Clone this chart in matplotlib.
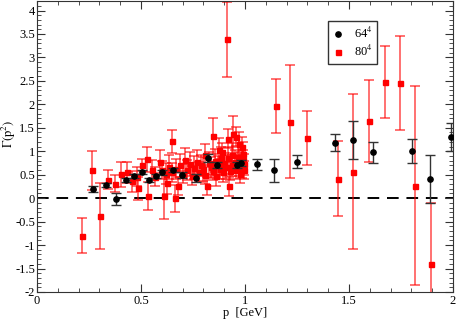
import numpy as np
import matplotlib
matplotlib.use("Agg")
import matplotlib.pyplot as plt
from matplotlib.lines import Line2D
from matplotlib.ticker import MultipleLocator

plt.rcParams['font.family'] = ['Liberation Serif', 'DejaVu Serif']
plt.rcParams['mathtext.fontset'] = 'stix'

# 64^4 lattice
p64 = [0.268, 0.332, 0.381, 0.426, 0.468, 0.506, 0.538, 0.572, 0.602, 0.655,
       0.695, 0.764, 0.824, 0.864, 0.96, 0.98, 1.058, 1.141, 1.248, 1.434,
       1.518, 1.615, 1.804, 1.889, 1.989]
g64 = [0.19, 0.28, -0.02, 0.38, 0.48, 0.56, 0.39, 0.47, 0.55, 0.60,
       0.50, 0.43, 0.86, 0.71, 0.71, 0.75, 0.72, 0.59, 0.78, 1.18,
       1.24, 0.98, 1.00, 0.41, 1.30]
e64 = [0.06, 0.05, 0.13, 0.04, 0.04, 0.05, 0.05, 0.05, 0.05, 0.05,
       0.06, 0.08, 0.08, 0.07, 0.07, 0.07, 0.12, 0.24, 0.14, 0.18,
       0.40, 0.22, 0.26, 0.52, 0.30]

# 80^4 lattice
p80 = [0.216, 0.264, 0.304, 0.341, 0.375, 0.404, 0.431, 0.458, 0.482, 0.484,
       0.506, 0.527, 0.532, 0.551, 0.567, 0.59, 0.611, 0.627, 0.647, 0.663,
       0.68, 0.712, 0.808, 0.816, 0.848, 0.877, 0.891, 0.915, 0.92, 0.925,
       0.936, 0.944, 0.957, 0.973, 0.984, 0.99, 0.995,
       0.60, 0.62, 0.635, 0.65, 0.67, 0.69, 0.70, 0.72, 0.735, 0.745,
       0.755, 0.77, 0.78, 0.79, 0.80, 0.81, 0.825, 0.835, 0.845, 0.855,
       0.86, 0.87, 0.88, 0.885, 0.895, 0.90, 0.91, 0.92, 0.93, 0.94,
       0.95, 0.955, 0.965, 0.97, 0.975, 0.98, 0.985, 0.99, 0.995,
       1.149, 1.216, 1.297, 1.449, 1.518, 1.598, 1.673, 1.747, 1.817, 1.894]
g80 = [-0.80, 0.59, -0.38, 0.39, 0.31, 0.51, 0.55, 0.36, 0.46, 0.21,
       0.71, 0.83, 0.05, 0.61, 0.46, 0.78, 0.05, 0.33, 1.21, 0.00,
       0.26, 0.82, 0.91, 0.26, 1.33, 1.03, 0.98, 3.39, 1.27, 0.25,
       0.93, 1.36, 1.31, 1.16, 1.10, 0.82, 0.60,
       0.60, 0.52, 0.66, 0.55, 0.62, 0.70, 0.52, 0.60, 0.73, 0.48,
       0.65, 0.78, 0.56, 0.70, 0.62, 0.50, 0.74, 0.66, 0.58, 0.80,
       0.48, 0.70, 0.62, 0.85, 0.55, 0.74, 0.66, 0.86, 0.58, 0.70,
       0.78, 0.60, 0.88, 0.68, 0.52, 0.76, 0.62, 0.94, 0.72,
       1.96, 1.63, 1.28, 0.41, 0.56, 1.65, 2.48, 2.45, 0.27, -1.41]
e80 = [0.37, 0.42, 0.71, 0.20, 0.18, 0.27, 0.23, 0.22, 0.20, 0.25,
       0.13, 0.27, 0.30, 0.20, 0.20, 0.25, 0.50, 0.25, 0.25, 0.29,
       0.20, 0.25, 0.25, 0.20, 0.38, 0.25, 0.20, 0.80, 0.21, 0.20,
       0.25, 0.39, 0.20, 0.25, 0.20, 0.20, 0.20,
       0.20, 0.22, 0.25, 0.20, 0.22, 0.25, 0.20, 0.22, 0.25, 0.20,
       0.25, 0.25, 0.22, 0.22, 0.25, 0.20, 0.25, 0.22, 0.20, 0.25,
       0.22, 0.20, 0.22, 0.25, 0.20, 0.22, 0.25, 0.22, 0.20, 0.22,
       0.25, 0.20, 0.22, 0.20, 0.20, 0.22, 0.20, 0.25, 0.22,
       0.57, 1.21, 0.58, 0.80, 1.65, 0.87, 0.77, 1.00, 2.13, 1.30]

fig = plt.figure(figsize=(4.57, 3.2), dpi=100)
ax = fig.add_axes([0.081, 0.0875, 0.910, 0.909])

ax.axhline(0, color='black', lw=1.4, dashes=(6, 4), zorder=1)

ax.errorbar(p80, g80, yerr=e80, fmt='s', color='red', ms=3.6, mec='red',
            ecolor=(1, 0, 0, 0.65), elinewidth=1.2, capsize=3.3, capthick=1.2,
            zorder=2)
ax.errorbar(p64, g64, yerr=e64, fmt='o', color='black', ms=3.8,
            ecolor='#333333', elinewidth=1.0, capsize=3.3, capthick=1.0,
            zorder=3)

ax.set_xlim(0, 2)
ax.set_ylim(-2, 4.2)
ax.xaxis.set_major_locator(MultipleLocator(0.5))
ax.xaxis.set_minor_locator(MultipleLocator(0.1))
ax.yaxis.set_major_locator(MultipleLocator(0.5))
ax.yaxis.set_minor_locator(MultipleLocator(0.1))
ax.tick_params(which='both', direction='in', top=True, right=True,
               labelsize=9, color='#333333', pad=2)
ax.tick_params(axis='y', pad=1.5)
ax.tick_params(which='major', length=6)
ax.tick_params(which='minor', length=3)
ax.yaxis.set_major_formatter(plt.FuncFormatter(lambda v, _: f'{v:g}'))
ax.xaxis.set_major_formatter(plt.FuncFormatter(lambda v, _: f'{v:g}'))
for s in ax.spines.values():
    s.set_color('#333333')

ax.set_xlabel('p  [GeV]', fontsize=9, labelpad=0)
# y label placed by hand, the reference sets it close to the left edge
fig.text(9 / 457, 1 - 134 / 320, r'$\Gamma(\mathrm{p}^2)$', fontsize=9,
         rotation=90, ha='center', va='center')

handles = [Line2D([], [], ls='', marker='o', color='black', ms=3.8),
           Line2D([], [], ls='', marker='s', color='red', ms=3.6)]
leg = ax.legend(handles, ['64$^4$', '80$^4$'], loc='upper left',
                bbox_to_anchor=(0.70, 0.93), fancybox=False, framealpha=1,
                edgecolor='#333333', fontsize=9, handletextpad=0.9,
                borderpad=0.35, labelspacing=0.25, handlelength=0.8,
                borderaxespad=0)
leg.get_frame().set_linewidth(1.0)

fig.savefig('out.png', dpi=100)
